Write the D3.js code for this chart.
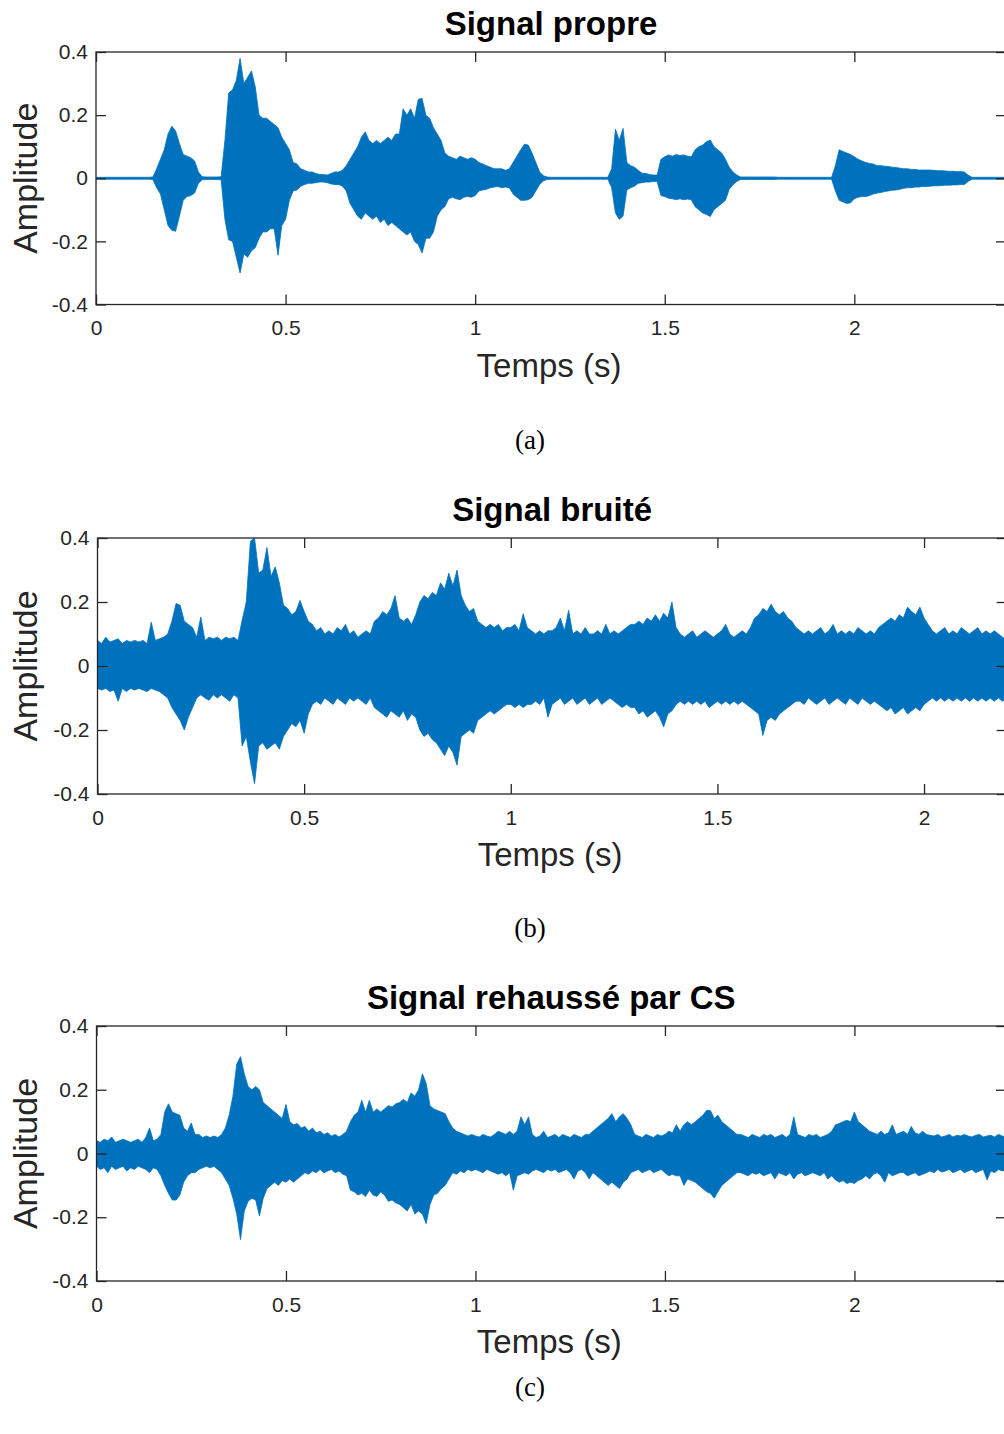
<!DOCTYPE html>
<html>
<head>
<meta charset="utf-8">
<script src="https://cdn.jsdelivr.net/npm/d3@7"></script>
<style>
	body { margin:0; background:#fff; }
	svg text { font-family: "Liberation Sans", Arial, sans-serif; }
</style>
</head>
<body>
<svg id="fig" width="1004" height="1434"></svg>
<script>
// sampling step of the envelopes (s)
var step = 0.01;

var xTicks = [0, 0.5, 1, 1.5, 2],
	yTicks = [-0.4, -0.2, 0, 0.2, 0.4];

// (a) Signal propre : upper / lower envelope, one value every 10 ms
var propreHaut = [
	.003,.003,.003,.003,.003,.003,.003,.003,.003,.003,
	.003,.003,.003,.003,.003,.004,.03,.06,.09,.14,
	.165,.15,.11,.075,.07,.065,.055,.02,.005,.004,
	.004,.004,.004,.005,.12,.27,.28,.31,.38,.30,
	.32,.34,.29,.20,.19,.19,.18,.17,.16,.13,
	.11,.09,.05,.045,.03,.025,.02,.02,.015,.012,
	.012,.01,.015,.02,.02,.025,.04,.06,.08,.10,
	.13,.147,.12,.11,.12,.11,.12,.13,.12,.14,
	.14,.22,.20,.22,.19,.25,.253,.20,.19,.16,
	.14,.12,.08,.07,.065,.06,.07,.065,.06,.065,
	.06,.05,.045,.04,.035,.03,.03,.03,.025,.03,
	.05,.07,.09,.108,.105,.08,.05,.02,.008,.004,
	.003,.003,.003,.003,.003,.003,.003,.003,.003,.003,
	.003,.003,.003,.003,.003,.003,.03,.155,.12,.158,
	.05,.04,.035,.025,.016,.015,.012,.01,.01,.06,
	.068,.074,.07,.075,.072,.074,.07,.068,.09,.10,
	.105,.116,.121,.10,.09,.08,.06,.035,.02,.01,
	.004,.004,.004,.004,.004,.004,.004,.004,.004,.004,
	.003,.003,.003,.003,.003,.003,.003,.003,.003,.003,
	.003,.003,.003,.003,.003,.04,.09,.085,.08,.075,
	.068,.06,.055,.05,.047,.045,.04,.04,.038,.037,
	.035,.034,.032,.03,.03,.028,.028,.026,.026,.026,
	.026,.025,.024,.024,.023,.022,.022,.021,.021,.02,
	.01,.003,.003,.003,.003,.003,.003,.003,.003,.003,
	.003];
var propreBas = [
	-.003,-.003,-.003,-.003,-.003,-.003,-.003,-.003,-.003,-.003,
	-.003,-.003,-.003,-.003,-.003,-.004,-.03,-.05,-.10,-.15,
	-.165,-.168,-.12,-.07,-.058,-.055,-.047,-.016,-.005,-.004,
	-.004,-.004,-.004,-.005,-.13,-.195,-.20,-.25,-.30,-.24,
	-.25,-.23,-.22,-.19,-.17,-.17,-.16,-.16,-.244,-.15,
	-.13,-.07,-.04,-.037,-.025,-.02,-.016,-.016,-.014,-.012,
	-.012,-.014,-.018,-.02,-.02,-.025,-.04,-.08,-.10,-.12,
	-.13,-.11,-.12,-.13,-.12,-.14,-.13,-.15,-.14,-.15,
	-.16,-.17,-.18,-.17,-.20,-.21,-.237,-.19,-.19,-.17,
	-.12,-.10,-.09,-.065,-.06,-.065,-.068,-.06,-.058,-.06,
	-.055,-.04,-.037,-.035,-.03,-.028,-.026,-.03,-.028,-.03,
	-.05,-.06,-.07,-.07,-.068,-.06,-.04,-.02,-.008,-.004,
	-.003,-.003,-.003,-.003,-.003,-.003,-.003,-.003,-.003,-.003,
	-.003,-.003,-.003,-.003,-.003,-.003,-.03,-.11,-.13,-.12,
	-.037,-.03,-.025,-.016,-.014,-.012,-.012,-.01,-.01,-.055,
	-.058,-.063,-.065,-.068,-.065,-.068,-.066,-.068,-.09,-.10,
	-.11,-.115,-.121,-.10,-.09,-.08,-.07,-.035,-.02,-.01,
	-.004,-.004,-.004,-.004,-.004,-.004,-.004,-.004,-.004,-.004,
	-.003,-.003,-.003,-.003,-.003,-.003,-.003,-.003,-.003,-.003,
	-.003,-.003,-.003,-.003,-.003,-.04,-.07,-.075,-.08,-.078,
	-.065,-.06,-.058,-.058,-.055,-.05,-.047,-.045,-.042,-.04,
	-.038,-.037,-.035,-.032,-.03,-.03,-.028,-.028,-.026,-.026,
	-.025,-.024,-.024,-.023,-.022,-.022,-.021,-.021,-.02,-.02,
	-.01,-.003,-.003,-.003,-.003,-.003,-.003,-.003,-.003,-.003,
	-.003];

// (b) Signal bruité
var bruiteHaut = [
	.08,.07,.09,.075,.08,.085,.07,.08,.075,.08,
	.075,.08,.07,.137,.08,.085,.09,.10,.14,.195,
	.19,.14,.13,.12,.09,.153,.08,.09,.085,.09,
	.08,.09,.085,.09,.08,.143,.20,.39,.40,.29,
	.30,.37,.28,.31,.26,.19,.18,.16,.17,.205,
	.17,.14,.13,.11,.12,.10,.11,.10,.12,.11,
	.13,.10,.11,.09,.10,.11,.10,.14,.15,.17,
	.16,.18,.22,.15,.14,.15,.13,.16,.20,.22,
	.21,.23,.22,.26,.24,.29,.25,.30,.22,.19,
	.17,.18,.14,.13,.12,.13,.12,.13,.11,.12,
	.12,.13,.11,.163,.12,.11,.10,.11,.10,.11,
	.11,.12,.15,.11,.174,.10,.11,.10,.12,.10,
	.10,.11,.10,.13,.10,.11,.10,.11,.12,.13,
	.13,.14,.13,.15,.14,.16,.14,.165,.15,.20,
	.12,.10,.09,.10,.11,.09,.10,.11,.10,.09,
	.10,.11,.13,.10,.09,.10,.11,.10,.12,.15,
	.16,.18,.17,.193,.17,.16,.17,.15,.14,.12,
	.11,.10,.11,.10,.11,.12,.10,.11,.13,.10,
	.11,.10,.11,.10,.12,.11,.10,.11,.10,.12,
	.13,.14,.15,.14,.16,.15,.184,.17,.16,.184,
	.15,.13,.11,.10,.11,.12,.10,.11,.10,.12,
	.11,.10,.11,.12,.10,.11,.10,.11,.10,.09,
	.08];
var bruiteBas = [
	-.07,-.075,-.07,-.08,-.075,-.11,-.07,-.08,-.07,-.075,
	-.07,-.075,-.08,-.07,-.075,-.08,-.09,-.10,-.13,-.15,
	-.17,-.20,-.16,-.13,-.10,-.09,-.10,-.107,-.09,-.10,
	-.09,-.10,-.11,-.09,-.10,-.25,-.22,-.30,-.368,-.25,
	-.24,-.26,-.25,-.24,-.26,-.22,-.20,-.18,-.19,-.17,
	-.21,-.15,-.12,-.11,-.12,-.10,-.11,-.12,-.10,-.11,
	-.12,-.10,-.11,-.10,-.11,-.12,-.10,-.13,-.14,-.15,
	-.16,-.14,-.15,-.16,-.14,-.17,-.15,-.16,-.20,-.22,
	-.21,-.23,-.24,-.26,-.28,-.25,-.27,-.31,-.22,-.21,
	-.20,-.21,-.17,-.16,-.15,-.14,-.15,-.14,-.13,-.12,
	-.12,-.13,-.12,-.13,-.12,-.12,-.11,-.12,-.10,-.16,
	-.12,-.11,-.10,-.12,-.11,-.10,-.12,-.11,-.10,-.12,
	-.11,-.10,-.12,-.11,-.10,-.11,-.12,-.13,-.12,-.13,
	-.13,-.15,-.14,-.16,-.15,-.14,-.16,-.19,-.15,-.14,
	-.12,-.11,-.12,-.11,-.12,-.11,-.12,-.11,-.13,-.12,
	-.11,-.12,-.11,-.12,-.11,-.12,-.11,-.12,-.13,-.14,
	-.15,-.217,-.17,-.16,-.17,-.15,-.14,-.13,-.12,-.11,
	-.11,-.12,-.10,-.11,-.12,-.11,-.10,-.12,-.11,-.10,
	-.11,-.12,-.10,-.11,-.12,-.10,-.11,-.12,-.11,-.12,
	-.13,-.14,-.13,-.15,-.14,-.13,-.15,-.14,-.13,-.14,
	-.12,-.11,-.10,-.11,-.10,-.11,-.10,-.11,-.10,-.11,
	-.10,-.11,-.10,-.11,-.10,-.11,-.10,-.11,-.10,-.11,
	-.10];

// (c) Signal rehaussé par CS
var rehausseHaut = [
	.04,.035,.045,.04,.052,.035,.04,.045,.04,.035,
	.04,.045,.035,.05,.08,.04,.045,.06,.13,.156,
	.13,.125,.12,.08,.07,.096,.06,.06,.05,.055,
	.05,.055,.05,.06,.08,.12,.18,.28,.304,.25,
	.21,.20,.21,.20,.16,.15,.14,.13,.12,.11,
	.154,.10,.09,.094,.08,.085,.07,.08,.065,.07,
	.06,.065,.055,.06,.052,.06,.07,.10,.12,.13,
	.167,.13,.167,.13,.14,.13,.14,.15,.146,.156,
	.16,.17,.16,.19,.18,.20,.25,.22,.15,.14,
	.135,.13,.125,.10,.08,.07,.065,.06,.055,.06,
	.055,.052,.06,.055,.052,.06,.07,.065,.06,.07,
	.06,.07,.115,.09,.115,.06,.05,.055,.07,.05,
	.055,.06,.05,.06,.055,.05,.06,.055,.05,.06,
	.06,.07,.08,.09,.10,.11,.125,.10,.115,.125,
	.11,.09,.06,.055,.05,.06,.055,.05,.06,.055,
	.06,.07,.065,.09,.07,.09,.10,.09,.10,.11,
	.12,.135,.135,.11,.12,.10,.09,.08,.07,.06,
	.06,.055,.05,.06,.055,.05,.06,.055,.06,.05,
	.055,.06,.05,.06,.115,.06,.055,.05,.06,.055,
	.06,.05,.055,.06,.07,.09,.094,.10,.104,.10,
	.13,.10,.09,.08,.07,.065,.06,.07,.06,.065,
	.09,.06,.065,.07,.06,.085,.065,.06,.07,.06,
	.057,.055,.06,.052,.055,.06,.052,.057,.055,.06,
	.055,.052,.057,.06,.052,.055,.057,.052,.06,.055,
	.05];
var rehausseBas = [
	-.04,-.05,-.045,-.06,-.04,-.05,-.045,-.04,-.055,-.045,
	-.05,-.04,-.045,-.05,-.06,-.045,-.05,-.07,-.10,-.125,
	-.146,-.146,-.13,-.09,-.07,-.06,-.06,-.05,-.045,-.04,
	-.045,-.04,-.05,-.06,-.08,-.10,-.14,-.19,-.27,-.18,
	-.15,-.14,-.146,-.196,-.14,-.11,-.10,-.09,-.10,-.085,
	-.09,-.08,-.09,-.08,-.07,-.06,-.065,-.055,-.06,-.05,
	-.06,-.055,-.05,-.06,-.055,-.065,-.07,-.115,-.12,-.13,
	-.125,-.135,-.115,-.13,-.135,-.12,-.13,-.15,-.146,-.155,
	-.16,-.17,-.18,-.16,-.19,-.18,-.19,-.22,-.16,-.13,
	-.125,-.11,-.10,-.08,-.06,-.065,-.055,-.06,-.05,-.055,
	-.05,-.055,-.06,-.05,-.055,-.06,-.065,-.06,-.07,-.06,
	-.115,-.07,-.065,-.06,-.065,-.055,-.05,-.055,-.06,-.05,
	-.055,-.05,-.06,-.055,-.05,-.06,-.08,-.055,-.05,-.06,
	-.08,-.06,-.07,-.08,-.09,-.10,-.09,-.10,-.11,-.09,
	-.08,-.06,-.055,-.05,-.06,-.055,-.05,-.06,-.055,-.05,
	-.06,-.07,-.065,-.07,-.07,-.10,-.08,-.085,-.09,-.10,
	-.11,-.12,-.125,-.14,-.12,-.10,-.09,-.08,-.07,-.06,
	-.06,-.065,-.07,-.06,-.065,-.06,-.07,-.065,-.06,-.08,
	-.06,-.065,-.07,-.06,-.08,-.065,-.06,-.07,-.065,-.06,
	-.065,-.07,-.06,-.08,-.07,-.083,-.09,-.085,-.094,-.09,
	-.094,-.085,-.08,-.07,-.08,-.065,-.06,-.07,-.09,-.06,
	-.07,-.065,-.06,-.06,-.07,-.065,-.06,-.07,-.065,-.06,
	-.055,-.06,-.05,-.058,-.055,-.05,-.06,-.055,-.05,-.06,
	-.055,-.05,-.06,-.055,-.05,-.083,-.055,-.06,-.05,-.055,
	-.05];

var panels = [
	{ title:"Signal propre",         caption:"(a)", hi:propreHaut,   lo:propreBas,   xmax:2.4,
	  left:96,   right:1006,   top:52,   bottom:304.5, capDy:143 },
	{ title:"Signal bruité",         caption:"(b)", hi:bruiteHaut,   lo:bruiteBas,   xmax:2.2,
	  left:97.5, right:1006.7, top:538,  bottom:794,   capDy:142 },
	{ title:"Signal rehaussé par CS", caption:"(c)", hi:rehausseHaut, lo:rehausseBas, xmax:2.4,
	  left:96.5, right:1006,   top:1026, bottom:1281,  capDy:114 }
];

var svg	= d3.select("#fig"),
	ink	= "#262626",
	blue	= "#0072BD";

function styleAxis(g) {
	g.select(".domain").remove();
	g.selectAll(".tick line").attr("stroke", ink).attr("stroke-width", 1.3);
	g.selectAll(".tick text").attr("fill", ink).style("font-size", "21px")
		.style("font-family", "'Liberation Sans', Arial, sans-serif");
}

panels.forEach(function(p, k) {
	var	x	= d3.scaleLinear().domain([0, p.xmax]).range([p.left, p.right]),
		y	= d3.scaleLinear().domain([-0.4, 0.4]).range([p.bottom, p.top]),
		data	= p.hi.map(function(v, i) { return { t: i * step, hi: v, lo: p.lo[i] }; }),
		g	= svg.append("g").attr("class", "panel");

	g.append("clipPath").attr("id", "clip" + k)
		.append("rect").attr("x", p.left).attr("y", p.top)
		.attr("width", p.right - p.left).attr("height", p.bottom - p.top);

	var area = d3.area()
		.x(function(d) { return x(d.t); })
		.y0(function(d) { return y(d.lo); })
		.y1(function(d) { return y(d.hi); });

	g.append("path").datum(data)
		.attr("clip-path", "url(#clip" + k + ")")
		.attr("d", area)
		.attr("fill", blue)
		.attr("stroke", blue)
		.attr("stroke-width", 0.8)
		.attr("stroke-linejoin", "miter");

	// axes, MATLAB style : ticks inside on all four sides
	g.append("g").attr("transform", "translate(0," + p.bottom + ")")
		.call(d3.axisBottom(x).tickValues(xTicks).tickSize(-10).tickPadding(16).tickFormat(d3.format("")))
		.call(styleAxis);
	g.append("g").attr("transform", "translate(0," + p.top + ")")
		.call(d3.axisTop(x).tickValues(xTicks).tickSize(-10).tickFormat(""))
		.call(styleAxis);
	g.append("g").attr("transform", "translate(" + p.left + ",0)")
		.call(d3.axisLeft(y).tickValues(yTicks).tickSize(-10).tickPadding(8).tickFormat(d3.format("")))
		.call(styleAxis);
	g.append("g").attr("transform", "translate(" + p.right + ",0)")
		.call(d3.axisRight(y).tickValues(yTicks).tickSize(-10).tickFormat(""))
		.call(styleAxis);
	g.selectAll(".tick text").filter(function() { return this.textContent.charAt(0) == "−"; })
		.text(function() { return "-" + this.textContent.slice(1); });

	g.append("rect")
		.attr("x", p.left).attr("y", p.top)
		.attr("width", p.right - p.left).attr("height", p.bottom - p.top)
		.attr("fill", "none").attr("stroke", ink).attr("stroke-width", 1.3);

	var cx = (p.left + p.right) / 2, cy = (p.top + p.bottom) / 2;
	g.append("text").text(p.title)
		.attr("x", cx).attr("y", p.top - 17)
		.attr("text-anchor", "middle")
		.style("font-size", "33px").style("font-weight", "bold").attr("fill", "#000");
	g.append("text").text("Temps (s)")
		.attr("x", cx - 2).attr("y", p.bottom + 72)
		.attr("text-anchor", "middle")
		.style("font-size", "33px").attr("fill", ink);
	g.append("text").text("Amplitude")
		.attr("transform", "translate(37," + cy + ") rotate(-90)")
		.attr("text-anchor", "middle")
		.style("font-size", "34px").attr("fill", ink);
	g.append("text").text(p.caption)
		.attr("x", 530).attr("y", p.bottom + p.capDy + 1)
		.attr("text-anchor", "middle")
		.style("font-family", "'Liberation Serif', 'Times New Roman', serif")
		.style("font-size", "27px").attr("fill", "#000");
});
</script>
</body>
</html>
